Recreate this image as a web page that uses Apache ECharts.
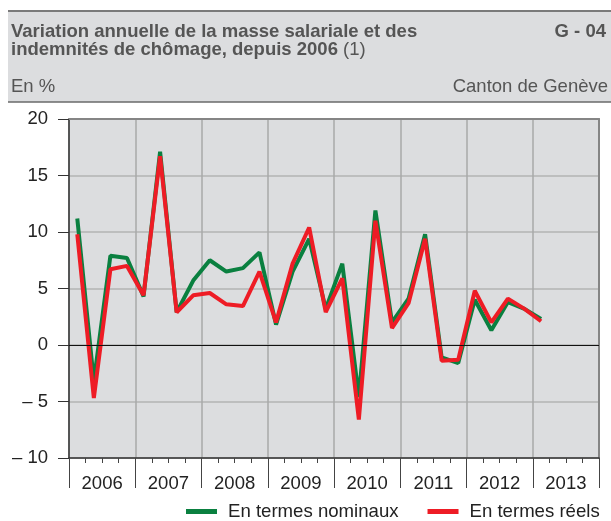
<!DOCTYPE html>
<html>
<head>
<meta charset="utf-8">
<script src="https://cdn.jsdelivr.net/npm/echarts@6/dist/echarts.min.js"></script>
<style>
  html, body { margin: 0; padding: 0; background: #fff; }
  #container { width: 611px; height: 521px; }
</style>
</head>
<body>
<div id="container"></div>
<script>
// trimestres 2006 - 2013
var years = ['2006', '2007', '2008', '2009', '2010', '2011', '2012', '2013'];
var quarters = [];
years.forEach(function (y) {
    for (var q = 1; q <= 4; q++) quarters.push(y + ' T' + q);
});

// variation annuelle en termes nominaux (%)
var nominaux = [
    11.2, -3.2, 7.9, 7.7,
    4.3, 17.1, 2.9, 5.7,
    7.5, 6.5, 6.8, 8.2,
    1.8, 6.5, 9.4, 3.2,
    7.2, -4.6, 11.9, 2.0,
    4.1, 9.8, -1.1, -1.6,
    4.0, 1.3, 3.8, 3.2,
    2.3, null, null, null
];

// variation annuelle en termes reels (%)
var reels = [
    9.8, -4.7, 6.7, 7.0,
    4.4, 16.7, 2.9, 4.4,
    4.6, 3.6, 3.45, 6.5,
    2.0, 7.2, 10.4, 2.9,
    5.9, -6.6, 11.0, 1.5,
    3.7, 9.4, -1.4, -1.3,
    4.8, 2.0, 4.1, 3.2,
    2.1, null, null, null
];

var yTicks = { min: -10, max: 20, interval: 5 };

var txt = '#555';
var font = 'Liberation Sans, Arial, sans-serif';

var dom = document.getElementById("container");
var myChart = echarts.init(dom);
var option = {
    backgroundColor: '#fff',
    animation: false,
    textStyle: { fontFamily: font },
    graphic: [
        { type: 'rect', shape: { x: 8, y: 11, width: 603, height: 91 }, style: { fill: '#dcdddf' }, z: -10 },
        { type: 'line', shape: { x1: 8, y1: 11, x2: 611, y2: 11 }, style: { stroke: '#7a7a7a', lineWidth: 2 } },
        { type: 'line', shape: { x1: 8, y1: 102, x2: 611, y2: 102 }, style: { stroke: '#6a6a6a', lineWidth: 1.5 } }
    ],
    title: [
        {
            text: 'Variation annuelle de la masse salariale et des\nindemnités de chômage, depuis 2006 {n|(1)}',
            left: 11, top: 23, padding: 0,
            textStyle: {
                fontFamily: font, fontSize: 18.5, fontWeight: 'bold', color: txt, lineHeight: 18,
                rich: { n: { fontFamily: font, fontSize: 18.5, fontWeight: 'normal', color: txt, lineHeight: 18 } }
            }
        },
        {
            text: 'G - 04', right: 5, top: 23, padding: 0,
            textStyle: { fontFamily: font, fontSize: 18.5, fontWeight: 'bold', color: txt, lineHeight: 18 }
        },
        {
            text: 'En %', left: 11, top: 78, padding: 0,
            textStyle: { fontFamily: font, fontSize: 18.5, fontWeight: 'normal', color: txt, lineHeight: 18 }
        },
        {
            text: 'Canton de Genève', right: 3, top: 78, padding: 0,
            textStyle: { fontFamily: font, fontSize: 18.5, fontWeight: 'normal', color: txt, lineHeight: 18 }
        }
    ],
    legend: {
        left: 186, top: 502, padding: 0,
        icon: 'rect', itemWidth: 31, itemHeight: 5, itemGap: 29,
        textStyle: { fontFamily: font, fontSize: 18.6, color: '#222', padding: [0, 0, 0, 6] },
        data: ['En termes nominaux', 'En termes réels']
    },
    grid: {
        left: 69, right: 12, top: 119, bottom: 63,
        show: true, backgroundColor: '#dcdddf', borderWidth: 0
    },
    xAxis: [
        {
            type: 'category', data: quarters, boundaryGap: true,
            axisLine: { onZero: false, lineStyle: { color: '#333', width: 1.5 } },
            axisTick: { show: true, interval: 0, length: 5, lineStyle: { color: '#444' } },
            axisLabel: { show: false },
            splitLine: { show: false }
        },
        {
            type: 'category', data: years, boundaryGap: true, position: 'bottom',
            axisLine: { show: false, onZero: false },
            axisTick: { show: true, interval: 0, length: 30, lineStyle: { color: '#444', width: 1 } },
            axisLabel: { show: true, interval: 0, margin: 16, fontSize: 18.5, color: '#222', fontFamily: font },
            splitLine: { show: true, interval: 0, lineStyle: { color: '#a8a8a8', width: 1.5 } }
        },
        {
            type: 'category', data: years, position: 'top',
            axisLine: { onZero: false, lineStyle: { color: '#858585', width: 2 } },
            axisTick: { show: false }, axisLabel: { show: false }, splitLine: { show: false }
        }
    ],
    yAxis: [
        {
            type: 'value', min: yTicks.min, max: yTicks.max, interval: yTicks.interval,
            axisLine: { show: true, onZero: false, lineStyle: { color: '#333', width: 1.5 } },
            axisTick: { show: true, length: 11, lineStyle: { color: '#333' } },
            axisLabel: {
                margin: 21, fontSize: 18.5, color: '#222', fontFamily: font,
                formatter: function (v) { return v < 0 ? '\u2013 ' + (-v) : String(v); }
            },
            splitLine: { show: true, lineStyle: { color: '#b3b3b3', width: 1.5 } }
        },
        {
            type: 'value', position: 'right', min: yTicks.min, max: yTicks.max, interval: yTicks.interval,
            axisLine: { show: true, onZero: false, lineStyle: { color: '#858585', width: 2 } },
            axisTick: { show: false }, axisLabel: { show: false }, splitLine: { show: false }
        }
    ],
    series: [
        {
            name: 'En termes nominaux', type: 'line', data: nominaux,
            symbol: 'none', color: '#0a8040',
            lineStyle: { width: 4, color: '#0a8040' },
            markLine: {
                silent: true, symbol: 'none', label: { show: false },
                lineStyle: { color: '#111', width: 1, type: 'solid' },
                data: [{ yAxis: 0 }]
            },
            z: 3
        },
        {
            name: 'En termes réels', type: 'line', data: reels,
            symbol: 'none', color: '#ee1c25',
            lineStyle: { width: 4, color: '#ee1c25' },
            z: 4
        }
    ]
};

if (option && typeof option === 'object') {
    myChart.setOption(option);
}
</script>
</body>
</html>
